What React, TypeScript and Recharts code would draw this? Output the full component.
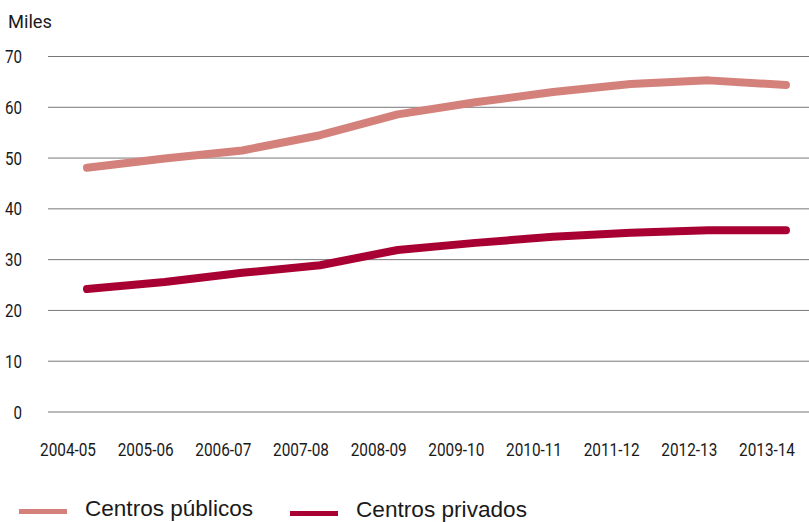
import { LineChart, Line, XAxis, YAxis, CartesianGrid } from "recharts";

const cursos = [
  "2004-05",
  "2005-06",
  "2006-07",
  "2007-08",
  "2008-09",
  "2009-10",
  "2010-11",
  "2011-12",
  "2012-13",
  "2013-14",
];
const publicos = [48.1, 49.9, 51.5, 54.5, 58.6, 61.0, 63.0, 64.6, 65.3, 64.4];
const privados = [24.2, 25.6, 27.4, 28.9, 31.9, 33.3, 34.5, 35.3, 35.8, 35.8];
const yTicks = [0, 10, 20, 30, 40, 50, 60, 70];

const data = cursos.map((c, i) => ({
  curso: c,
  publicos: publicos[i],
  privados: privados[i],
}));

const COND = "'Roboto', 'DejaVu Sans Condensed', sans-serif";
const SANS = "'Liberation Sans', 'Roboto', sans-serif";
const PUB = "#d4817c";
const PRIV = "#a80032";

// condensed look: squeeze the glyphs to the width seen in the reference
const XTick = (props: any) => {
  const { x, y, payload } = props;
  return (
    <text
      x={x - 19}
      y={y + 36}
      textAnchor="middle"
      fontFamily={COND}
      fontSize={18}
      fill="#1a1a1a"
      textLength={56}
      lengthAdjust="spacingAndGlyphs"
    >
      {payload.value}
    </text>
  );
};

const YTick = (props: any) => {
  const { y, payload } = props;
  const w = String(payload.value).length * 8.5;
  return (
    <text
      x={22}
      y={y + 6.5}
      textAnchor="end"
      fontFamily={COND}
      fontSize={18}
      fill="#1a1a1a"
      textLength={w}
      lengthAdjust="spacingAndGlyphs"
    >
      {payload.value}
    </text>
  );
};

export default function App() {
  return (
    <div style={{ position: "absolute", left: 0, top: 0, width: 809, height: 522, background: "#fff", overflow: "hidden" }}>
      <svg style={{ position: "absolute", left: 0, top: 0 }} width={80} height={40}>
        <text x={8} y={28} fontFamily={COND} fontSize={19} fill="#1a1a1a" textLength={44} lengthAdjust="spacingAndGlyphs">
          Miles
        </text>
      </svg>
      <LineChart
        width={809}
        height={522}
        data={data}
        margin={{ top: 56.5, right: 0, left: 0, bottom: 0 }}
      >
        <CartesianGrid vertical={false} stroke="#777" strokeWidth={1} />
        <XAxis
          dataKey="curso"
          axisLine={false}
          tickLine={false}
          tick={<XTick />}
          interval={0}
          height={110}
          padding={{ left: 39, right: 23 }}
        />
        <YAxis
          domain={[0, 70]}
          ticks={yTicks}
          width={48}
          axisLine={false}
          tickLine={false}
          tick={<YTick />}
        />
        <Line
          type="linear"
          dataKey="publicos"
          stroke={PUB}
          strokeWidth={8}
          strokeLinecap="round"
          strokeLinejoin="round"
          dot={false}
          isAnimationActive={false}
        />
        <Line
          type="linear"
          dataKey="privados"
          stroke={PRIV}
          strokeWidth={8}
          strokeLinecap="round"
          strokeLinejoin="round"
          dot={false}
          isAnimationActive={false}
        />
      </LineChart>
      <svg style={{ position: "absolute", left: 0, top: 490 }} width={809} height={32}>
        <rect x={19} y={19} width={48} height={5} fill={PUB} />
        <text x={85} y={26} fontFamily={SANS} fontSize={22} fill="#1a1a1a" textLength={168} lengthAdjust="spacingAndGlyphs">
          Centros públicos
        </text>
        <rect x={290} y={21} width={48} height={5} fill={PRIV} />
        <text x={356} y={27} fontFamily={SANS} fontSize={22} fill="#1a1a1a" textLength={171} lengthAdjust="spacingAndGlyphs">
          Centros privados
        </text>
      </svg>
    </div>
  );
}
